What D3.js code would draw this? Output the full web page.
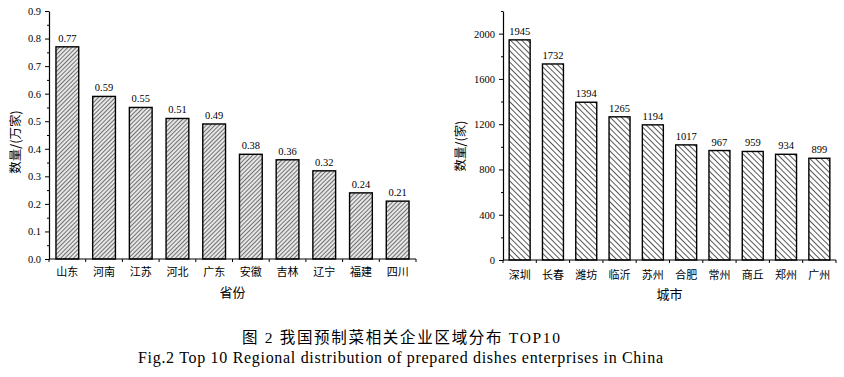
<!DOCTYPE html>
<html>
<head>
<meta charset="utf-8">
<script src="https://cdn.jsdelivr.net/npm/d3@7"></script>
<style>
  body { margin: 0; background: #fff; }
  svg { display: block; }
</style>
</head>
<body>
<div id="chart"></div>
<script>
// data
const provinces = ["山东", "河南", "江苏", "河北", "广东", "安徽", "吉林", "辽宁", "福建", "四川"];
const provinceValues = [0.77, 0.59, 0.55, 0.51, 0.49, 0.38, 0.36, 0.32, 0.24, 0.21];
const provinceTicks = [0, 0.1, 0.2, 0.3, 0.4, 0.5, 0.6, 0.7, 0.8, 0.9];

const cities = ["深圳", "长春", "潍坊", "临沂", "苏州", "合肥", "常州", "商丘", "郑州", "广州"];
const cityValues = [1945, 1732, 1394, 1265, 1194, 1017, 967, 959, 934, 899];
const cityTicks = [0, 400, 800, 1200, 1600, 2000];

const serif = "'Liberation Serif', 'Times New Roman', 'Noto Sans CJK SC', serif";
const cjk = "'Noto Sans CJK SC', sans-serif";

const svg = d3.select("#chart").append("svg")
    .attr("width", 844)
    .attr("height", 377);

// hatch patterns
const defs = svg.append("defs");
defs.append("pattern")
    .attr("id", "hatchLeft")
    .attr("patternUnits", "userSpaceOnUse")
    .attr("width", 3).attr("height", 3)
    .attr("patternTransform", "rotate(45)")
    .call(p => {
        p.append("rect").attr("width", 3).attr("height", 3).attr("fill", "#e6e6e6");
        p.append("line").attr("x1", 0).attr("y1", 0).attr("x2", 0).attr("y2", 3)
            .attr("stroke", "#111").attr("stroke-width", 1.1);
    });
defs.append("pattern")
    .attr("id", "hatchRight")
    .attr("patternUnits", "userSpaceOnUse")
    .attr("width", 4).attr("height", 4)
    .attr("patternTransform", "rotate(-45)")
    .call(p => {
        p.append("rect").attr("width", 4).attr("height", 4).attr("fill", "#fff");
        p.append("line").attr("x1", 0).attr("y1", 0).attr("x2", 0).attr("y2", 4)
            .attr("stroke", "#111").attr("stroke-width", 1.4);
    });

function drawPanel(opt) {
    const g = svg.append("g");

    const x = d3.scaleBand()
        .domain(opt.cats)
        .range(opt.xRange)
        .paddingInner(opt.pad)
        .paddingOuter(opt.pad / 2);

    const y = d3.scaleLinear()
        .domain(opt.yDomain)
        .range(opt.yRange);

    // bars
    g.selectAll("rect.bar")
        .data(opt.values)
        .join("rect")
        .attr("class", "bar")
        .attr("x", (d, i) => x(opt.cats[i]))
        .attr("y", d => y(d))
        .attr("width", x.bandwidth())
        .attr("height", d => y(0) - y(d))
        .attr("fill", `url(#${opt.pattern})`)
        .attr("stroke", "#000")
        .attr("stroke-width", 1.4);

    // value labels
    g.selectAll("text.val")
        .data(opt.values)
        .join("text")
        .attr("class", "val")
        .attr("x", (d, i) => x(opt.cats[i]) + x.bandwidth() / 2)
        .attr("y", d => y(d) - 5)
        .attr("text-anchor", "middle")
        .style("font-family", serif)
        .style("font-size", "10.5px")
        .text(d => opt.fmt(d));

    // y axis with minor ticks
    const minor = [];
    for (let i = 0; i < opt.ticks.length; i++) {
        const step = opt.ticks[1] - opt.ticks[0];
        const v = opt.ticks[i] + step / 2;
        if (v <= opt.yDomain[1] + 1e-9) minor.push(v);
    }
    g.append("g")
        .attr("transform", `translate(${opt.xRange[0]},0)`)
        .call(d3.axisLeft(y).tickValues(minor).tickSize(2).tickFormat(""))
        .call(a => a.select(".domain").remove());
    const yAxis = g.append("g")
        .attr("transform", `translate(${opt.xRange[0]},0)`)
        .call(d3.axisLeft(y).tickValues(opt.ticks).tickSize(4).tickPadding(4)
            .tickFormat(opt.tickFmt).tickSizeOuter(0));
    yAxis.selectAll("text")
        .style("font-family", serif)
        .style("font-size", "10.5px")
        .attr("fill", "#000");
    yAxis.selectAll("line").attr("stroke", "#000");
    yAxis.select(".domain").attr("stroke", "#000").attr("stroke-width", 1.2);

    // x axis: ticks at band boundaries
    const bx = y(0);
    g.append("line")
        .attr("x1", opt.xRange[0]).attr("x2", opt.xRange[1])
        .attr("y1", bx).attr("y2", bx)
        .attr("stroke", "#000").attr("stroke-width", 1.2);
    const step = x.step();
    const bounds = d3.range(opt.cats.length + 1).map(i => opt.xRange[0] + i * step);
    g.selectAll("line.xt")
        .data(bounds)
        .join("line")
        .attr("class", "xt")
        .attr("x1", d => d).attr("x2", d => d)
        .attr("y1", bx).attr("y2", bx + 3)
        .attr("stroke", "#000");

    g.selectAll("text.cat")
        .data(opt.cats)
        .join("text")
        .attr("class", "cat")
        .attr("x", d => x(d) + x.bandwidth() / 2)
        .attr("y", bx + opt.catDy)
        .attr("text-anchor", "middle")
        .style("font-family", cjk)
        .style("font-size", "11px")
        .text(d => d);

    // axis titles
    g.append("text")
        .attr("x", (opt.xRange[0] + opt.xRange[1]) / 2)
        .attr("y", bx + opt.titleDy)
        .attr("text-anchor", "middle")
        .style("font-family", cjk)
        .style("font-size", "13px")
        .text(opt.xTitle);

    g.append("text")
        .attr("transform", `translate(${opt.yTitleX},${opt.yTitleY}) rotate(-90)`)
        .attr("text-anchor", "middle")
        .attr("dy", "0.35em")
        .style("font-family", cjk)
        .style("font-size", "12.5px")
        .text(opt.yTitle);
}

drawPanel({
    cats: provinces,
    values: provinceValues,
    ticks: provinceTicks,
    xRange: [49, 416],
    yRange: [259, 11],
    yDomain: [0, 0.9],
    pad: 0.38,
    pattern: "hatchLeft",
    fmt: d => d3.format(".2f")(d),
    tickFmt: d3.format(".1f"),
    catDy: 17,
    titleDy: 38,
    xTitle: "省份",
    yTitle: "数量/(万家)",
    yTitleX: 16,
    yTitleY: 142
});

drawPanel({
    cats: cities,
    values: cityValues,
    ticks: cityTicks,
    xRange: [503, 836],
    yRange: [260, 11],
    yDomain: [0, 2200],
    pad: 0.37,
    pattern: "hatchRight",
    fmt: d => d,
    tickFmt: d3.format("d"),
    catDy: 19,
    titleDy: 39,
    xTitle: "城市",
    yTitle: "数量/(家)",
    yTitleX: 461,
    yTitleY: 146
});

// caption
svg.append("text")
    .attr("x", 242)
    .attr("y", 343)
    .attr("textLength", 318)
    .attr("lengthAdjust", "spacing")
    .style("font-family", serif)
    .style("font-size", "15.5px")
    .text("图 2  我国预制菜相关企业区域分布 TOP10");

svg.append("text")
    .attr("x", 138)
    .attr("y", 363)
    .attr("textLength", 525)
    .attr("lengthAdjust", "spacing")
    .style("font-family", serif)
    .style("font-size", "16px")
    .text("Fig.2 Top 10 Regional distribution of prepared dishes enterprises in China");
</script>
</body>
</html>
